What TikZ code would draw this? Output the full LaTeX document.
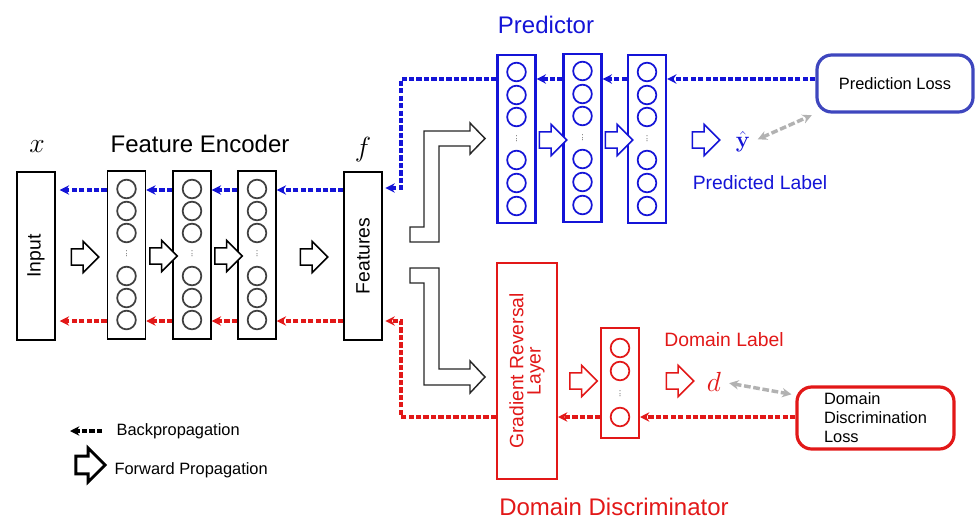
\documentclass[tikz,border=0pt]{standalone}
\usepackage[no-math]{fontspec}
\setmainfont{Liberation Sans}
\usepackage{tikz}
\usetikzlibrary{arrows.meta,shapes.arrows,calc}
\definecolor{pblue}{RGB}{20,20,215}
\definecolor{lblue}{RGB}{62,70,190}
\definecolor{dred}{RGB}{226,24,24}
\tikzset{
  lay/.style={rectangle, draw=black, fill=white, line width=1.1pt, minimum width=28.5pt, minimum height=126pt, inner sep=0pt},
  play/.style={lay, draw=pblue, line width=1.6pt},
  neu/.style={circle, draw=black!75, line width=1.3pt, minimum size=14pt, inner sep=0pt},
  pneu/.style={neu, draw=pblue},
  rneu/.style={neu, draw=dred},
  vd/.style={font=\fontsize{7}{8}\selectfont, text=black!60, inner sep=0pt, rotate=90},
  fwd/.style={single arrow, draw=black, fill=white, line width=1.1pt, minimum height=20.5pt, inner sep=5.6pt, single arrow head extend=5.6pt},
  bent/.style={draw=black!85, line width=1.1pt, fill=white},
  Bb/.style={draw=pblue, line width=2.6pt, dash pattern=on 4pt off 1.6pt, ->, >={Stealth[length=7pt,width=7pt]}},
  Rb/.style={Bb, draw=dred},
  Kb/.style={Bb, draw=black, line width=2.8pt},
  gr/.style={draw=black!30, line width=2.6pt, dash pattern=on 5pt off 2pt, <->, >={Stealth[length=7pt,width=7pt]}, shorten <=5pt, shorten >=3pt},
  lossb/.style={rectangle, rounded corners=11pt, line width=2.4pt, fill=white},
  lbl/.style={inner sep=1pt},
  big/.style={font=\fontsize{18}{22}\selectfont},
  mid/.style={font=\fontsize{14.5}{17.5}\selectfont},
  sml/.style={font=\fontsize{12.3}{14.3}\selectfont}
}

\begin{document}
\begin{tikzpicture}[x=0.75pt, y=-0.75pt]
\useasboundingbox (0,0) rectangle (975,521);

% feature encoder
\node[lay, mid] (in) at (36,256) {\rotatebox{90}{Input}};
\node[lay] (e1) at (126.5,255) {};
\node[lay] (e2) at (192,255) {};
\node[lay] (e3) at (257,255) {};
\node[lay, mid] (f) at (363,256) {\rotatebox{90}{Features}};
\foreach \b in {e1,e2,e3}{
  \foreach \dy [count=\k] in {-66,-44,-22,21,43,65}
    \node[neu] (\b n\k) at ($(\b)+(0,\dy)$) {};
  \node[vd] (\b d) at ($(\b)+(0,-1)$) {...};
}
\node[lbl, font=\fontsize{20}{24}\selectfont] (xl) at (37,147) {$x$};
\node[lbl, big] (fe) at (200,144) {Feature Encoder};
\node[lbl, font=\fontsize{20}{24}\selectfont] (fl) at (363,150) {$f$};

\node[fwd] (a0) at (81,257) {};
\node[fwd] (a1) at (159.5,256) {};
\node[fwd] (a2) at (224.5,256) {};
\node[fwd] (a3) at (310,257) {};

% predictor
\node[play] (p1) at (516.5,139) {};
\node[play] (p2) at (582.5,138) {};
\node[play] (p3) at (647,139) {};
\foreach \b in {p1,p2,p3}{
  \foreach \dy [count=\k] in {-67,-44,-22,21,44,67}
    \node[pneu] (\b n\k) at ($(\b)+(0,\dy)$) {};
  \node[vd] (\b d) at ($(\b)+(0,0)$) {...};
}
\node[lbl, big, text=pblue] (pt) at (546,25) {Predictor};
\node[fwd, draw=pblue] (b1) at (549,140) {};
\node[fwd, draw=pblue] (b2) at (615,140) {};
\node[fwd, draw=pblue] (b3) at (702,140) {};
\node[lbl, text=pblue, font=\fontsize{18}{20}\selectfont] (yh) at (743,142) {$\hat{\mathbf{y}}$};
\node[lbl, mid, text=pblue] (plb) at (760,183) {Predicted Label};
\node[lossb, draw=lblue, minimum width=117pt, minimum height=42.75pt, sml] (pl) at (895,83.5) {Prediction Loss};

% domain discriminator
\node[lay, draw=dred, line width=1.5pt, minimum width=45pt, minimum height=162pt, mid, text=dred, align=center] (grl) at (527,371) {\rotatebox{90}{\shortstack{Gradient Reversal\\Layer}}};
\node[lay, draw=dred, line width=1.5pt, minimum height=82.5pt] (dd) at (620,383) {};
\foreach \dy [count=\k] in {-35,-12,34}
  \node[rneu] (ddn\k) at ($(dd)+(0,\dy)$) {};
\node[vd] (ddd) at ($(dd)+(0,11)$) {...};
\node[fwd, draw=dred] (c1) at (579.5,381) {};
\node[fwd, draw=dred] (c2) at (676,381) {};
\node[lbl, text=dred, font=\fontsize{22}{26}\selectfont] (dl) at (714,382) {$d$};
\node[lbl, mid, text=dred] (dlb) at (724,340) {Domain Label};
\node[lbl, big, text=dred] (dt) at (614,507) {Domain Discriminator};
\node[lossb, draw=dred, minimum width=117.75pt, minimum height=46.5pt, sml, align=left] (ddl) at (875.5,418) {Domain\\Discrimination\\Loss};

% split arrows
\draw[bent] (410,227) -- (424,227) -- (424,131) -- (470,131) -- (470,123) -- (485,138.5) -- (470,154) -- (470,146) -- (439,146) -- (439,242) -- (410,242) -- cycle;
\draw[bent] (410,268) -- (439,268) -- (439,369) -- (470,369) -- (470,361) -- (485,377) -- (470,393) -- (470,385) -- (424,385) -- (424,283) -- (410,283) -- cycle;

% backpropagation
\coordinate (bt) at (0,79);
\coordinate (eb) at (0,190);
\coordinate (er) at (0,321);
\coordinate (rt) at (0,417);
\coordinate (kb) at (401,188);
\coordinate (kr) at (401,321);
\draw[Bb] (pl.west |- bt) -- (p3.east |- bt);
\draw[Bb] (p3.west |- bt) -- (p2.east |- bt);
\draw[Bb] (p2.west |- bt) -- (p1.east |- bt);
\draw[Bb, shorten >=2pt] (p1.west |- bt) -| (kb) -- (f.east |- kb);
\draw[Bb] (f.west |- eb) -- (e3.east |- eb);
\draw[Bb] (e3.west |- eb) -- (e2.east |- eb);
\draw[Bb] (e2.west |- eb) -- (e1.east |- eb);
\draw[Bb, shorten >=3pt] (e1.west |- eb) -- (in.east |- eb);
\draw[Rb] (ddl.west |- rt) -- (dd.east |- rt);
\draw[Rb] (dd.west |- rt) -- (grl.east |- rt);
\draw[Rb, shorten >=2pt] (grl.west |- rt) -| (kr) -- (f.east |- kr);
\draw[Rb] (f.west |- er) -- (e3.east |- er);
\draw[Rb] (e3.west |- er) -- (e2.east |- er);
\draw[Rb] (e2.west |- er) -- (e1.east |- er);
\draw[Rb, shorten >=3pt] (e1.west |- er) -- (in.east |- er);

% losses
\draw[gr] (yh.east) -- (pl.south west);
\draw[gr] (dl.east) -- (ddl.164);

% legend
\coordinate (lk1) at (102,431);
\coordinate (lk0) at (70,431);
\draw[Kb] (lk1) -- (lk0);
\node[lbl, sml, anchor=base west] (lgb) at (115,435) {Backpropagation};
\node[fwd, line width=2.2pt, minimum height=22pt, single arrow head extend=6pt] (lga) at (86,465) {};
\node[lbl, sml, anchor=base west] (lgf) at (113,474) {Forward Propagation};
\end{tikzpicture}
\end{document}
